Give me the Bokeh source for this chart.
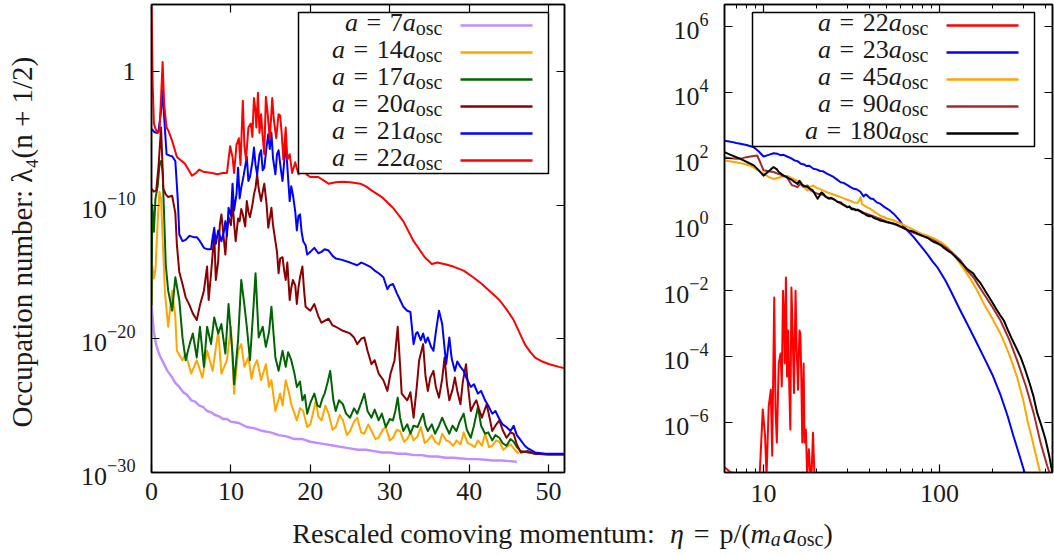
import math
from bokeh.plotting import figure
from bokeh.models import (Range1d, FixedTicker, LogTickFormatter, BasicTickFormatter,
                          CustomJSTickFormatter, LinearAxis, LogAxis, Label, BoxAnnotation)
from bokeh.layouts import row, column
from bokeh.embed import file_html
from bokeh.resources import INLINE

FONT = "Liberation Serif"
TXT = "#1a1a1a"

# ---------------- data (eta, log10 of occupation number) ----------------
# left panel
a7 = [(0, -17.5), (0.3, -19.5), (0.6, -20.5), (1.0, -21.2), (1.5, -21.8), (2.0, -22.4), (2.5, -22.8),
      (3.0, -23.3), (3.5, -23.6), (4.0, -24.0), (4.5, -24.2), (5.0, -24.6), (5.5, -24.7), (6.0, -25.0),
      (6.5, -25.1), (7.0, -25.4), (7.5, -25.5), (8.0, -25.7), (8.5, -25.8), (9.0, -26.0), (9.5, -26.0),
      (10, -26.2), (11, -26.3), (12, -26.6), (13, -26.7), (14, -26.9), (15, -27.0), (16, -27.2),
      (17, -27.3), (18, -27.5), (19, -27.5), (20, -27.7), (21, -27.8), (22, -27.9), (23, -28.0),
      (24, -28.1), (25, -28.2), (26, -28.3), (27, -28.3), (28, -28.4), (29, -28.5), (30, -28.5),
      (31, -28.6), (32, -28.6), (33, -28.7), (34, -28.7), (35, -28.8), (36, -28.8), (37, -28.9),
      (38, -28.9), (39, -28.95), (40, -29.0), (41, -29.0), (42, -29.05), (43, -29.1), (44, -29.1),
      (45, -29.15), (46, -29.2)]

a14 = [(0.0, -17.5), (0.1, -14.5), (0.3, -15.5), (0.5, -14.8), (0.8, -11.0), (1.0, -9.0), (1.2, -9.5),
       (1.4, -12.5), (1.7, -16.6), (2.1, -19.1), (2.6, -16.4), (3.0, -18.4), (3.2, -20.9), (3.9, -21.6),
       (4.3, -21.1), (5.0, -22.6), (5.7, -21.6), (6.4, -22.9), (7.0, -20.9), (7.7, -22.4), (8.4, -19.4),
       (8.8, -22.6), (9.5, -21.6), (10.0, -19.1), (10.4, -24.1), (10.9, -20.9), (11.3, -20.4),
       (11.7, -22.1), (12.2, -21.4), (12.6, -23.0), (12.9, -22.1), (13.3, -21.6), (13.8, -23.1),
       (14.4, -21.9), (14.8, -23.6), (15.1, -23.1), (15.6, -25.4), (16.2, -24.1), (16.5, -25.0),
       (16.9, -23.1), (17.3, -24.0), (17.6, -24.9), (18.3, -26.1), (18.7, -25.2), (19.1, -25.4),
       (19.6, -26.6), (20.0, -26.4), (20.7, -24.6), (21.0, -25.8), (21.4, -26.1), (21.9, -25.0),
       (22.3, -25.6), (22.8, -26.8), (23.2, -26.6), (23.7, -25.7), (24.1, -26.1), (24.6, -27.2),
       (25.0, -26.9), (25.5, -26.2), (25.9, -25.9), (26.4, -27.0), (26.8, -27.1), (27.3, -26.4),
       (27.7, -26.9), (28.2, -27.5), (28.6, -27.4), (29.1, -26.8), (29.5, -26.6), (30.0, -27.6),
       (30.4, -27.4), (30.9, -26.8), (31.3, -26.9), (31.8, -27.7), (32.2, -27.5), (32.6, -27.0),
       (33.0, -27.6), (33.5, -27.3), (33.9, -26.6), (34.4, -27.8), (34.8, -27.6), (35.3, -27.2),
       (35.7, -27.7), (36.2, -27.9), (36.6, -27.1), (37.1, -27.6), (37.5, -27.7), (38.0, -28.0),
       (38.4, -27.6), (38.9, -27.9), (39.3, -27.0), (39.8, -27.8), (40.2, -27.9), (40.7, -28.1),
       (41.1, -27.6), (41.6, -28.0), (42.0, -27.1), (42.5, -28.1), (42.9, -28.0), (43.4, -27.6),
       (43.8, -27.7), (44.3, -28.3), (44.7, -28.1), (45.2, -27.9), (45.6, -28.2), (46.2, -28.6)]

a17 = [(0.0, -17.5), (0.1, -10.0), (0.3, -12.0), (0.5, -9.5), (0.8, -8.5), (1.0, -7.0), (1.2, -6.7),
       (1.4, -7.5), (1.6, -11.0), (1.8, -14.5), (2.1, -16.4), (2.6, -17.9), (3.0, -15.4), (3.5, -17.1),
       (3.9, -19.9), (4.3, -21.6), (4.8, -20.4), (5.2, -19.6), (5.7, -21.4), (6.1, -19.1), (6.6, -22.1),
       (7.0, -19.1), (7.5, -20.4), (7.9, -18.4), (8.4, -19.6), (8.8, -18.9), (9.3, -21.1), (9.7, -17.4),
       (10.2, -21.1), (10.4, -23.4), (10.9, -20.1), (11.3, -15.6), (11.7, -17.5), (12.0, -19.1),
       (12.4, -21.6), (12.8, -18.0), (13.1, -15.1), (13.5, -19.9), (14.0, -19.1), (14.4, -20.6),
       (14.8, -19.5), (15.1, -17.6), (15.6, -21.4), (16.0, -22.4), (16.5, -20.9), (16.9, -22.1),
       (17.2, -21.0), (17.6, -21.6), (18.0, -22.6), (18.3, -23.6), (18.7, -23.2), (19.0, -24.6),
       (19.3, -24.2), (19.6, -25.6), (20.0, -24.8), (20.5, -24.1), (20.9, -25.0), (21.2, -25.1),
       (21.5, -24.5), (21.8, -24.1), (22.2, -23.2), (22.5, -22.4), (22.9, -24.6), (23.2, -25.4),
       (23.6, -24.6), (24.1, -24.9), (24.5, -25.6), (25.0, -25.9), (25.5, -25.2), (25.9, -25.6),
       (26.4, -24.8), (26.8, -24.1), (27.2, -25.4), (27.7, -25.9), (28.1, -25.3), (28.6, -26.1),
       (29.0, -25.6), (29.5, -26.6), (30.0, -26.0), (30.4, -26.1), (30.7, -25.4), (31.0, -24.4),
       (31.3, -25.9), (31.7, -26.9), (32.2, -26.4), (32.6, -27.1), (33.0, -26.5), (33.5, -26.6),
       (33.9, -26.0), (34.2, -25.6), (34.5, -26.5), (34.8, -26.9), (35.3, -26.4), (35.7, -27.1),
       (36.2, -26.5), (36.6, -25.9), (37.1, -26.6), (37.5, -27.1), (37.9, -26.5), (38.4, -26.9),
       (38.8, -26.2), (39.3, -25.6), (39.7, -26.8), (40.2, -27.4), (40.6, -26.5), (41.1, -25.1),
       (41.5, -26.5), (42.0, -27.1), (42.4, -27.0), (42.9, -27.6), (43.3, -27.2), (43.8, -27.4),
       (44.2, -27.8), (44.7, -28.0), (45.2, -27.5), (45.6, -27.7), (46.0, -28.1), (46.5, -28.4),
       (47.4, -28.5), (48.3, -28.6), (50.0, -28.65), (52.0, -28.65)]

a20 = [(0.0, -8.8), (0.3, -9.0), (0.6, -8.9), (0.9, -7.0), (1.2, -4.2), (1.5, -8.8), (1.8, -9.2),
       (2.1, -9.4), (2.6, -9.3), (3.0, -10.6), (3.2, -13.0), (3.5, -15.0), (3.9, -15.9), (4.3, -16.9),
       (4.8, -17.5), (5.2, -18.1), (5.7, -18.6), (6.1, -17.5), (6.6, -16.4), (7.0, -14.6), (7.2, -17.1),
       (7.5, -15.1), (7.9, -12.2), (8.1, -15.6), (8.4, -14.2), (8.6, -11.5), (8.8, -10.7), (9.1, -12.5),
       (9.3, -13.7), (9.5, -12.0), (9.7, -10.9), (10.0, -11.5), (10.2, -9.7), (10.4, -11.4),
       (10.6, -12.7), (10.9, -11.0), (11.1, -11.2), (11.3, -10.3), (11.5, -10.7), (11.8, -11.6),
       (12.0, -9.7), (12.2, -10.5), (12.4, -10.9), (12.7, -10.0), (12.9, -9.2), (13.1, -8.7),
       (13.3, -7.7), (13.5, -8.8), (13.8, -9.7), (14.0, -9.0), (14.2, -8.4), (14.5, -10.0),
       (14.7, -11.7), (14.9, -11.0), (15.1, -10.2), (15.3, -11.5), (15.6, -12.7), (15.8, -13.5),
       (16.0, -15.1), (16.2, -14.0), (16.5, -13.9), (16.7, -14.9), (16.9, -15.6), (17.1, -14.3),
       (17.4, -17.1), (17.6, -16.2), (17.8, -15.6), (18.1, -16.0), (18.3, -17.4), (18.5, -16.2),
       (18.7, -15.4), (19.0, -14.6), (19.2, -16.3), (19.4, -17.6), (20.0, -17.9), (20.5, -17.4),
       (21.0, -18.3), (21.4, -18.8), (22.3, -18.5), (22.8, -19.0), (23.2, -19.1), (24.1, -19.4),
       (25.0, -19.6), (25.5, -19.9), (25.9, -20.4), (26.4, -20.0), (26.8, -19.9), (27.2, -20.9),
       (27.7, -21.9), (28.1, -21.6), (28.6, -22.6), (29.2, -23.1), (29.7, -23.9), (30.1, -22.6),
       (30.6, -21.6), (31.0, -19.1), (31.3, -22.0), (31.5, -24.1), (32.2, -24.6), (32.6, -24.0),
       (33.0, -25.9), (33.4, -23.6), (33.7, -21.6), (34.2, -20.4), (34.5, -22.8), (34.8, -23.9),
       (35.1, -22.9), (35.5, -22.4), (35.8, -23.6), (36.2, -24.4), (36.6, -23.0), (36.9, -21.4),
       (37.2, -23.4), (37.5, -24.6), (37.9, -23.8), (38.2, -22.9), (38.5, -23.9), (38.9, -24.9),
       (39.2, -23.2), (39.6, -21.9), (39.9, -23.8), (40.2, -25.4), (40.6, -24.9), (40.9, -24.6),
       (41.2, -25.2), (41.6, -25.9), (41.9, -25.4), (42.2, -24.9), (42.6, -26.0), (42.9, -26.9),
       (43.3, -26.5), (43.8, -26.1), (44.2, -26.8), (44.7, -27.4), (45.2, -27.0), (45.6, -27.1),
       (46.0, -27.9), (46.5, -28.5), (47.4, -28.4), (48.3, -28.6), (50.0, -28.65), (52.0, -28.65)]

a21 = [(0.0, -4.3), (0.3, -4.5), (0.6, -4.6), (0.9, -4.4), (1.2, -3.0), (1.4, -1.4), (1.6, -3.5),
       (1.9, -6.2), (2.3, -6.3), (2.6, -6.35), (3.0, -6.7), (3.3, -9.5), (3.5, -12.2), (3.9, -12.7),
       (4.3, -12.6), (4.8, -12.3), (5.3, -12.4), (5.7, -12.4), (6.1, -12.7), (6.6, -13.2), (7.0, -13.3),
       (7.5, -13.3), (7.7, -12.4), (7.9, -11.7), (8.1, -12.9), (8.4, -11.9), (8.8, -12.7), (9.1, -12.0),
       (9.3, -11.2), (9.5, -12.3), (9.7, -10.2), (10.0, -10.8), (10.2, -8.4), (10.4, -10.4),
       (10.7, -9.2), (10.9, -7.2), (11.1, -9.5), (11.3, -8.7), (11.6, -7.8), (12.0, -6.4),
       (12.2, -8.2), (12.4, -7.9), (12.7, -6.8), (12.9, -5.7), (13.1, -7.0), (13.3, -7.7),
       (13.6, -6.2), (13.8, -5.9), (14.0, -7.4), (14.2, -7.2), (14.5, -5.6), (14.7, -4.7),
       (14.9, -5.8), (15.1, -4.6), (15.3, -6.5), (15.6, -7.7), (15.8, -6.2), (16.0, -5.9),
       (16.3, -7.4), (16.5, -8.2), (16.7, -6.8), (16.9, -5.2), (17.2, -8.0), (17.4, -9.7),
       (17.6, -8.6), (17.8, -9.2), (18.1, -10.5), (18.3, -11.9), (18.5, -10.8), (18.7, -10.7),
       (18.9, -12.0), (19.1, -12.7), (19.4, -13.0), (19.6, -13.7), (20.0, -13.5), (20.5, -13.2),
       (21.0, -13.6), (21.4, -13.5), (21.8, -13.3), (22.3, -13.4), (22.8, -13.8), (23.2, -14.0),
       (24.0, -14.1), (25.0, -14.3), (25.9, -14.5), (26.4, -14.3), (26.8, -14.4), (27.5, -14.6),
       (28.1, -14.9), (28.6, -15.1), (29.2, -15.4), (29.7, -16.3), (30.0, -16.0), (30.4, -15.9),
       (30.9, -16.6), (31.3, -17.1), (31.7, -17.6), (32.2, -17.9), (32.6, -18.0), (33.0, -20.4),
       (33.3, -19.6), (33.5, -19.5), (33.9, -20.1), (34.2, -19.6), (34.5, -20.3), (34.8, -19.9),
       (35.2, -20.6), (35.5, -20.9), (35.8, -19.5), (36.2, -17.9), (36.6, -18.9), (36.9, -20.7),
       (37.1, -21.9), (37.5, -19.9), (37.8, -21.5), (38.2, -22.4), (38.5, -21.7), (38.9, -22.1),
       (39.3, -22.4), (39.7, -23.0), (40.2, -23.6), (40.6, -23.4), (41.1, -24.1), (41.5, -23.9),
       (42.0, -24.6), (42.4, -25.0), (42.9, -25.6), (43.3, -25.4), (43.8, -26.0), (44.2, -26.4),
       (44.7, -26.6), (45.2, -26.9), (45.6, -26.5), (46.0, -27.2), (46.5, -27.6), (47.0, -28.0),
       (47.4, -28.2), (48.3, -28.5), (49.6, -28.6), (51.0, -28.6), (52.0, -28.6)]

# a = 22 a_osc (shown in both panels)
a22 = [(0.0, 5.5), (0.15, -1.0), (0.3, -3.9), (0.5, -4.3), (0.8, -4.6), (1.0, -4.5), (1.2, -2.0),
       (1.4, 0.7), (1.6, -2.5), (1.9, -4.2), (2.1, -4.4), (2.6, -5.2), (3.2, -6.4), (4.2, -6.9),
       (5.1, -7.8), (5.6, -7.6), (6.0, -7.35), (6.5, -7.5), (7.0, -7.55), (7.6, -7.6), (8.3, -7.7),
       (9.0, -7.6), (9.5, -7.6), (9.9, -5.6), (10.2, -6.4), (10.4, -7.6), (10.7, -5.5), (11.0, -5.0),
       (11.2, -7.0), (11.5, -2.2), (11.7, -5.6), (11.9, -6.6), (12.2, -4.2), (12.5, -3.9),
       (12.7, -4.9), (12.9, -2.0), (13.1, -3.0), (13.2, -4.2), (13.4, -1.6), (13.6, -4.6),
       (13.8, -3.2), (14.0, -4.9), (14.2, -6.2), (14.4, -1.9), (14.6, -3.0), (14.9, -5.1),
       (15.2, -2.0), (15.4, -3.6), (15.7, -5.0), (16.0, -3.2), (16.2, -3.3), (16.4, -4.7),
       (16.6, -6.6), (16.9, -4.2), (17.1, -6.6), (17.4, -6.2), (17.7, -7.6), (18.1, -6.8),
       (18.5, -7.7), (18.8, -7.4), (19.1, -6.3), (19.5, -7.7), (20.0, -7.9), (21.0, -7.9),
       (22.3, -8.4), (23.2, -8.3), (24.0, -8.25), (25.0, -8.3), (26.3, -8.4), (27.0, -8.6),
       (27.7, -8.9), (29.0, -9.4), (30.4, -10.2), (31.7, -11.2), (33.0, -12.7), (34.4, -13.9),
       (35.3, -14.4), (36.0, -14.3), (37.1, -14.45), (38.0, -14.6), (39.3, -14.9), (40.5, -15.4),
       (41.6, -15.9), (42.7, -16.5), (43.8, -17.1), (44.7, -17.8), (45.6, -18.6), (46.3, -19.5),
       (47.0, -20.4), (47.7, -21.0), (48.3, -21.4), (49.2, -21.7), (50.1, -21.9), (51.3, -22.1),
       (52.0, -22.2)]

# right panel
a23 = [(6.0, 2.55), (6.5, 2.52), (7.0, 2.48), (7.5, 2.45), (8.0, 2.42), (8.8, 2.35), (9.4, 2.22),
       (10.0, 2.07), (10.7, 2.12), (11.4, 2.17), (12.0, 2.15), (12.5, 2.11), (13.0, 2.12), (13.6, 2.07),
       (14.3, 2.02), (15.0, 1.95), (15.6, 1.93), (16.3, 1.85), (17.0, 1.83), (17.5, 1.78), (18.2, 1.79),
       (19.2, 1.70), (20.0, 1.68), (21.0, 1.63), (21.8, 1.62), (22.9, 1.55), (24.0, 1.50), (25.0, 1.45),
       (26.2, 1.37), (27.4, 1.29), (28.5, 1.27), (30.0, 1.20), (31.2, 1.14), (32.6, 1.09), (34.0, 1.07),
       (35.5, 1.00), (37.0, 0.86), (38.0, 0.92), (38.8, 0.89), (40.5, 0.80), (42.0, 0.78), (44.0, 0.68),
       (46.0, 0.64), (48.0, 0.56), (50.0, 0.50), (52.0, 0.44), (55.0, 0.33), (59.0, 0.15), (63.0, -0.07),
       (67.0, -0.22), (71.5, -0.38), (78.0, -0.63), (85.0, -0.88), (91.0, -1.10), (97.0, -1.28),
       (108.0, -1.69), (115.5, -1.99), (130.0, -2.55), (143.5, -3.00), (160.0, -3.50), (178.5, -4.01),
       (200.0, -4.55), (222.0, -5.15), (244.0, -5.8), (263.0, -6.4), (285.0, -7.0), (304.0, -7.5),
       (320.0, -7.9)]

a45 = [(6.0, 1.95), (6.8, 1.90), (7.7, 1.85), (8.5, 1.78), (9.0, 1.70), (9.5, 1.62), (10.0, 1.55),
       (10.7, 1.45), (11.4, 1.39), (12.0, 1.42), (12.5, 1.45), (13.0, 1.47), (13.6, 1.49), (14.3, 1.42),
       (15.0, 1.38), (15.6, 1.33), (16.3, 1.29), (16.8, 1.20), (17.3, 1.10), (17.8, 1.04), (18.3, 1.15),
       (19.2, 1.19), (20.0, 1.12), (21.0, 1.08), (22.0, 1.03), (22.9, 0.99), (24.0, 0.95), (25.0, 0.92),
       (26.2, 0.88), (27.4, 0.84), (28.6, 0.80), (30.0, 0.76), (31.3, 0.72), (32.6, 0.68), (34.0, 0.66),
       (35.0, 0.74), (35.6, 0.84), (36.3, 0.62), (37.5, 0.58), (38.8, 0.53), (40.5, 0.48), (42.0, 0.42),
       (44.0, 0.35), (46.0, 0.28), (50.0, 0.20), (55.0, 0.13), (60.0, 0.04), (66.4, -0.07), (72.0, -0.16),
       (78.7, -0.27), (86.0, -0.34), (93.5, -0.42), (102.0, -0.53), (111.0, -0.68), (120.0, -0.88),
       (127.0, -1.08), (138.0, -1.35), (149.0, -1.62), (165.0, -2.02), (178.5, -2.39), (200.0, -2.85),
       (222.0, -3.30), (250.0, -3.95), (276.0, -4.62), (300.0, -5.35), (316.0, -5.93), (329.0, -6.3),
       (350.0, -6.9), (373.0, -7.5), (390.0, -8.0)]

a90 = [(6.0, 2.05), (6.5, 2.02), (7.1, 2.00), (7.6, 2.02), (8.0, 2.05), (8.6, 2.08), (9.2, 2.10),
       (9.6, 1.88), (10.0, 1.65), (10.7, 1.62), (11.4, 1.60), (12.0, 1.55), (12.5, 1.52), (13.0, 1.48),
       (13.6, 1.44), (14.1, 1.30), (14.5, 1.20), (15.0, 1.18), (15.6, 1.14), (16.2, 1.25), (16.8, 1.15),
       (17.8, 1.19), (18.5, 1.05), (19.2, 1.00), (20.3, 0.94), (21.5, 0.92), (22.9, 0.84), (24.0, 0.80),
       (25.0, 0.78), (26.2, 0.70), (27.4, 0.64), (28.6, 0.60), (30.0, 0.55), (31.3, 0.52), (32.6, 0.48),
       (34.0, 0.45), (35.6, 0.42), (37.0, 0.37), (38.8, 0.33), (42.0, 0.26), (46.0, 0.18), (50.0, 0.10),
       (55.0, 0.03), (60.0, -0.06), (66.4, -0.17), (72.0, -0.25), (78.7, -0.32), (86.0, -0.40),
       (93.5, -0.48), (102.0, -0.60), (111.0, -0.73), (121.0, -0.90), (131.7, -1.08), (143.5, -1.38),
       (155.7, -1.59), (167.0, -1.85), (178.5, -2.09), (200.0, -2.50), (222.0, -2.90), (250.0, -3.50),
       (276.0, -4.11), (310.0, -4.90), (343.5, -5.73), (375.0, -6.60), (409.0, -7.30), (422.0, -7.52),
       (440.0, -8.0)]

a180 = [(6.0, 2.20), (6.5, 2.12), (7.0, 2.05), (7.7, 1.95), (8.2, 1.88), (8.8, 1.80), (9.4, 1.65),
        (10.0, 1.49), (10.7, 1.62), (11.4, 1.75), (11.9, 1.68), (12.2, 1.60), (13.0, 1.49), (13.5, 1.45),
        (14.0, 1.40), (14.5, 1.36), (15.0, 1.30), (15.6, 1.24), (16.0, 1.33), (16.5, 1.22), (17.0, 1.18),
        (17.8, 1.14), (18.3, 1.10), (19.0, 1.05), (19.5, 0.95), (20.3, 0.79), (20.8, 0.88), (21.3, 0.98),
        (21.9, 0.94), (22.5, 0.85), (23.5, 0.79), (24.2, 0.82), (25.5, 0.75), (26.3, 0.70), (27.4, 0.68),
        (28.5, 0.60), (30.0, 0.53), (30.8, 0.56), (31.6, 0.47), (32.6, 0.48), (33.5, 0.44), (34.3, 0.46),
        (35.5, 0.40), (36.5, 0.36), (37.5, 0.33), (38.8, 0.28), (40.0, 0.26), (41.0, 0.27), (42.0, 0.22),
        (43.5, 0.18), (45.0, 0.16), (46.0, 0.13), (48.0, 0.11), (50.0, 0.08), (52.0, 0.06), (55.0, 0.03),
        (57.5, 0.00), (60.0, -0.05), (63.0, -0.10), (66.4, -0.17), (69.0, -0.19), (72.0, -0.22),
        (75.0, -0.27), (78.7, -0.32), (82.0, -0.36), (86.0, -0.40), (89.5, -0.47), (93.5, -0.53),
        (97.0, -0.56), (102.0, -0.62), (106.0, -0.70), (111.0, -0.78), (116.0, -0.84), (121.0, -0.93),
        (126.0, -1.02), (131.7, -1.13), (137.0, -1.22), (143.0, -1.33), (149.0, -1.40), (155.7, -1.48),
        (162.0, -1.62), (170.0, -1.75), (178.0, -1.92), (186.0, -2.09), (197.0, -2.30), (210.0, -2.55),
        (220.0, -2.72), (232.0, -2.90), (245.0, -3.20), (260.0, -3.50), (274.0, -3.75), (289.0, -4.01),
        (305.0, -4.35), (325.0, -4.80), (342.0, -5.20), (359.0, -5.70), (380.0, -6.10), (400.0, -6.50),
        (420.0, -7.0), (438.0, -7.52), (450.0, -7.8)]

left_series = [("7", a7, "#c08cff"), ("14", a14, "#ffa500"), ("17", a17, "#006400"),
               ("20", a20, "#8b0000"), ("21", a21, "#0000ff"), ("22", a22, "#ff0000")]
right_series = [("22", a22, "#ff0000"), ("23", a23, "#0000ff"), ("45", a45, "#ffa500"),
                ("90", a90, "#a52a2a"), ("180", a180, "#000000")]

x_ticks_left = [0, 10, 20, 30, 40, 50]
y_ticks_left = [1e-30, 1e-20, 1e-10, 1]
x_ticks_right = [10, 100]
x_minor_right = [7, 8, 9, 20, 30, 40, 50, 60, 70, 80, 90, 200, 300, 400]
y_ticks_right = [1e-6, 1e-4, 1e-2, 1, 1e2, 1e4, 1e6]

ylabel = "Occupation number:  \u03bb\u2084(n + 1/2)"
xlabel_text = "Rescaled comoving momentum:"

FS = 26   # legend text px
TS = 26   # tick label px
SS = 20   # subscript px
GAP = 0.33  # math spacing around "=" (em)
BASE_SHIFT = -3  # label baseline relative to legend row centre (px)

# ---------------- geometry (pixels) ----------------
H, TOP, BOT = 510, 4, 38
L_W, L_LEFT, L_RIGHT = 620, 151, 56
R_W, R_LEFT, R_RIGHT = 434, 104, 2
L_X = (0, 52)
L_Y = (1e-30, 1e5)
R_X = (6.0, 438.5)
R_Y = (3.12e-8, 4.74e6)
FRAME_H = H - TOP - BOT


def map_lin(px, x0px, wpx, lo, hi):
    return lo + (px - x0px) / wpx * (hi - lo)


def map_log(px, x0px, wpx, lo, hi):
    return 10 ** (math.log10(lo) + (px - x0px) / wpx * (math.log10(hi) - math.log10(lo)))


def left_xy(px, py):
    fw = L_W - L_LEFT - L_RIGHT
    return (map_lin(px, L_LEFT, fw, *L_X),
            map_log(TOP + FRAME_H - py, 0, FRAME_H, *L_Y))


def right_xy(px, py):
    fw = R_W - R_LEFT - R_RIGHT
    return (map_log(px - L_W, R_LEFT, fw, *R_X),
            map_log(TOP + FRAME_H - py, 0, FRAME_H, *R_Y))


def style_axis(ax, labels=True):
    ax.major_tick_in = 8
    ax.major_tick_out = 0
    ax.minor_tick_in = 4
    ax.minor_tick_out = 0
    ax.axis_line_width = 1.5
    ax.axis_line_color = "black"
    ax.major_tick_line_width = 1.2
    ax.minor_tick_line_width = 1.0
    ax.major_tick_line_color = "black"
    ax.minor_tick_line_color = "black"
    ax.major_label_text_font = FONT
    ax.major_label_text_color = TXT
    ax.major_label_text_font_size = f"{TS}px"
    if not labels:
        ax.formatter = CustomJSTickFormatter(code="return ''")
        ax.major_label_text_font_size = "1px"
        ax.major_label_standoff = 0


def lab(p, xy, text, size=FS, italic=False, align="left"):
    p.add_layout(Label(x=xy[0], y=xy[1], text=text,
                       text_font=FONT, text_font_size=f"{size}px",
                       text_font_style="italic" if italic else "normal",
                       text_align=align, text_baseline="alphabetic", text_color=TXT))


def box(p, mapper, l, t, r, b, **kw):
    x0, y0 = mapper(l, b)
    x1, y1 = mapper(r, t)
    p.add_layout(BoxAnnotation(left=x0, right=x1, bottom=y0, top=y1, **kw))


def legend(p, mapper, rect, entries, text_right, s0, s1, row0, dy):
    l, t, r, b = rect
    box(p, mapper, l, t, r, b, fill_color="white", fill_alpha=1.0,
        line_color="black", line_alpha=1.0, line_width=1.5)
    for i, (num, _, col) in enumerate(entries):
        cy = row0 + i * dy
        box(p, mapper, s0, cy - 1.2, s1, cy + 1.2, fill_color=col, fill_alpha=1.0,
            line_color=None)
        base = cy + BASE_SHIFT
        x = text_right
        lab(p, mapper(x, base + 5), "osc", size=SS, align="right")
        x -= 1.333 * SS
        lab(p, mapper(x, base), "a", italic=True, align="right")
        x -= 0.5 * FS
        lab(p, mapper(x, base), num, align="right")
        x -= 0.5 * FS * len(num) + GAP * FS
        lab(p, mapper(x, base), "=", align="right")
        x -= 0.564 * FS + GAP * FS
        lab(p, mapper(x, base), "a", italic=True, align="right")


# ---------------- left panel ----------------
left = figure(width=L_W, height=H, x_range=Range1d(*L_X), y_range=Range1d(*L_Y),
              y_axis_type="log", output_backend="svg", toolbar_location=None,
              min_border_left=L_LEFT, min_border_right=L_RIGHT, min_border_top=TOP,
              min_border_bottom=BOT)
left.grid.visible = False
left.outline_line_color = "black"
left.outline_line_width = 1.5
left.xaxis.ticker = FixedTicker(ticks=x_ticks_left)
left.yaxis.ticker = FixedTicker(ticks=y_ticks_left)
left.yaxis.formatter = LogTickFormatter()
left.yaxis.major_label_overrides = {1: "1"}
style_axis(left.xaxis[0])
style_axis(left.yaxis[0])
left.xaxis.major_label_standoff = 10
left.yaxis.major_label_standoff = 16
left.yaxis.axis_label = ylabel
left.yaxis.axis_label_text_font = FONT
left.yaxis.axis_label_text_font_size = "29px"
left.yaxis.axis_label_text_font_style = "normal"
left.yaxis.axis_label_text_color = TXT
left.yaxis.axis_label_standoff = 40
top_l = LinearAxis(ticker=FixedTicker(ticks=x_ticks_left))
style_axis(top_l, labels=False)
left.add_layout(top_l, "above")
right_l = LogAxis(ticker=FixedTicker(ticks=y_ticks_left))
style_axis(right_l, labels=False)
left.add_layout(right_l, "right")

for num, pts, col in left_series:
    xs = [p[0] for p in pts]
    ys = [10.0 ** p[1] for p in pts]
    left.line(xs, ys, line_color=col, line_width=2.4 if num == "7" else 2, line_join="round")

legend(left, left_xy, (298, 12, 548, 173), left_series, 442, 460, 532, 25, 27)

# ---------------- right panel ----------------
right = figure(width=R_W, height=H, x_range=Range1d(*R_X), y_range=Range1d(*R_Y),
               x_axis_type="log", y_axis_type="log", output_backend="svg", toolbar_location=None,
               min_border_left=R_LEFT, min_border_right=R_RIGHT, min_border_top=TOP,
               min_border_bottom=BOT)
right.grid.visible = False
right.outline_line_color = "black"
right.outline_line_width = 1.5
right.xaxis.ticker = FixedTicker(ticks=x_ticks_right, minor_ticks=x_minor_right)
right.xaxis.formatter = BasicTickFormatter()
right.yaxis.ticker = FixedTicker(ticks=y_ticks_right)
right.yaxis.formatter = LogTickFormatter()
style_axis(right.xaxis[0])
style_axis(right.yaxis[0])
right.xaxis.major_label_standoff = 12
right.yaxis.major_label_standoff = 16
top_r = LogAxis(ticker=FixedTicker(ticks=x_ticks_right, minor_ticks=x_minor_right))
style_axis(top_r, labels=False)
right.add_layout(top_r, "above")
right_r = LogAxis(ticker=FixedTicker(ticks=y_ticks_right))
style_axis(right_r, labels=False)
right.add_layout(right_r, "right")

for num, pts, col in right_series:
    sel = [p for p in pts if p[0] >= 5.0]
    xs = [p[0] for p in sel]
    ys = [10.0 ** p[1] for p in sel]
    right.line(xs, ys, line_color=col, line_width=2, line_join="round")

legend(right, right_xy, (752, 12, 1034, 146), right_series, 928, 946, 1018, 25, 27)

# ---------------- shared x-axis label ----------------
bottom = figure(width=1054, height=46, x_range=Range1d(0, 1054), y_range=Range1d(46, 0),
                x_axis_location=None, y_axis_location=None, output_backend="svg",
                toolbar_location=None, min_border=0)
bottom.grid.visible = False
bottom.outline_line_color = None
XF = 28
XS = 20
by = 23
# (text, size, italic, baseline shift, advance in px)
pieces = [
    (xlabel_text, XF, False, 0, 12.94 * XF + 0.55 * XF),
    ("\u03b7", XF, True, 0, 0.5 * XF + 0.35 * XF),
    ("=", XF, False, 0, 0.564 * XF + 0.35 * XF),
    ("p/(", XF, False, 0, 1.111 * XF),
    ("m", XF, True, 0, 0.722 * XF),
    ("a", XS, True, 5, 0.5 * XS + 2),
    ("a", XF, True, 0, 0.5 * XF),
    ("osc", XS, False, 5, 1.333 * XS),
    (")", XF, False, 0, 0.333 * XF),
]
total = sum(pc[4] for pc in pieces)
x = 562 - total / 2
for text, size, it, dyb, adv in pieces:
    lab(bottom, (x, by + dyb), text, size=size, italic=it)
    x += adv

layout = column(row(left, right), bottom)
open("out.html", "w").write(file_html(layout, INLINE))
